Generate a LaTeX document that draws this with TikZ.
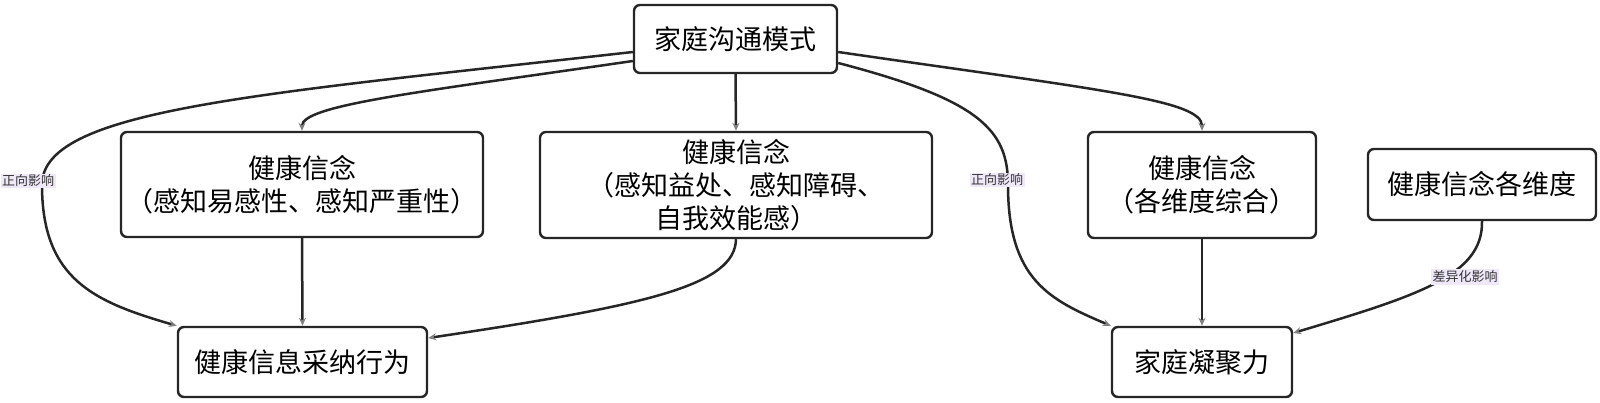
\documentclass[tikz,border=0pt]{standalone}
\usepackage{fontspec}
\setmainfont{Noto Sans CJK SC}
\usetikzlibrary{arrows.meta}
\definecolor{edgec}{HTML}{262626}
\definecolor{lblbg}{HTML}{EEE8F8}
\tikzset{
  box/.style={draw=black!85, line width=2.4pt, rounded corners=6pt, fill=white,
    align=center, inner sep=0pt, font=\fontsize{27}{33}\selectfont},
  conn/.style={draw=edgec, line width=2.5pt, -{Stealth[length=8pt,width=7pt,color=gray]}},
  lbl/.style={fill=lblbg, text=black!80, font=\fontsize{13}{15}\selectfont, inner sep=1.5pt},
}
\begin{document}
\begin{tikzpicture}[x=1pt,y=-1pt]
\useasboundingbox (0,0) rectangle (1600,403);
% nodes
\node[box, minimum width=203pt, minimum height=68pt] (top) at (735.5,39) {家庭沟通模式};
\node[box, minimum width=362pt, minimum height=105pt] (b1) at (302,184.5) {健康信念\\（感知易感性、感知严重性）};
\node[box, minimum width=392pt, minimum height=106pt] (b2) at (736,185) {健康信念\\（感知益处、感知障碍、\\自我效能感）};
\node[box, minimum width=228pt, minimum height=106pt] (b3) at (1202,185) {健康信念\\（各维度综合）};
\node[box, minimum width=228pt, minimum height=71pt] (b4) at (1482,184.5) {健康信念各维度};
\node[box, minimum width=249pt, minimum height=70pt] (bl) at (302.5,362) {健康信息采纳行为};
\node[box, minimum width=180pt, minimum height=70pt] (br) at (1202,362) {家庭凝聚力};
% connectors
\coordinate (lmid) at (42,185);
\coordinate (rmid) at (1008,185);
\draw[conn] ([yshift=-24pt]top.east) .. controls (980,100) and (1008,130) .. (rmid)
   .. controls (1008,280) and (1050,300) .. (br.north west);
\draw[conn] ([yshift=-13pt]top.west) .. controls (250,95) and (42,110) .. (lmid)
   .. controls (42,280) and (95,302) .. (bl.north west);
\draw[conn] ([yshift=-22pt]top.west) .. controls (420,92) and (302,105) .. (b1.north);
\draw[conn] (top.south) -- (b2.north);
\draw[conn] ([yshift=-13pt]top.east) .. controls (1100,90) and (1202,100) .. (b3.north);
\draw[conn] (b1.south) -- (bl.north);
\draw[conn] (b2.south) .. controls (735,285) and (650,305) .. ([yshift=24pt]bl.east);
\draw[conn] (b3.south) -- (br.north);
\draw[conn] (b4.south) .. controls (1483,275) and (1420,295) .. ([yshift=29pt]br.east);
% labels
\node[lbl] (l1) at (28,181) {正向影响};
\node[lbl] (l2) at (997,180) {正向影响};
\node[lbl] (l3) at (1465,277) {差异化影响};
\end{tikzpicture}
\end{document}
